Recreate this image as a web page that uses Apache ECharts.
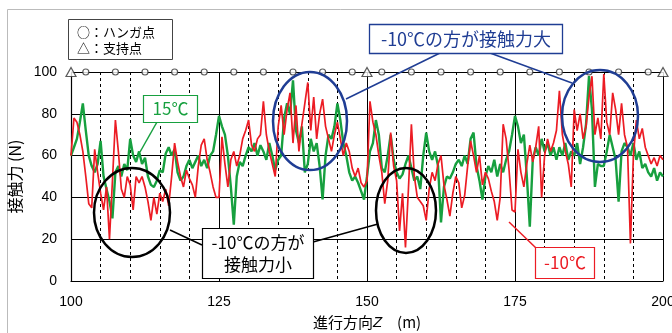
<!DOCTYPE html>
<html><head><meta charset="utf-8">
<script src="https://cdn.jsdelivr.net/npm/echarts@6/dist/echarts.min.js"></script>
<style>html,body{margin:0;padding:0;background:#fff}#c{width:672px;height:333px}</style>
</head><body><div id="c"></div>
<script>
// position along track (m): samples every 0.5 m from 100 to 200
const zStart = 100, zStep = 0.5;
// contact force (N) at -10°C
const redMinus10 = [
60,78,76,70,62,50,37,35,63,52,
42,34,45,20,48,77,62,44,40,50,
46,34,50,47,50,45,38,29,40,32,
42,38,44,36,50,66,57,50,45,53,
49,46,40,55,65,68,58,52,45,40,
40,69,56,45,58,62,55,60,68,72,
77,65,62,68,70,86,70,62,56,50,
74,84,70,82,90,66,84,62,75,85,
95,72,88,68,80,87,74,68,62,70,
76,68,60,66,62,54,50,54,47,45,
48,86,76,70,60,52,37,48,71,55,
48,24,42,16,44,75,50,40,38,36,
29,44,52,48,56,60,46,39,31,42,
50,47,35,41,55,67,60,52,60,46,
52,49,43,38,29,40,75,68,53,34,
33,63,52,45,56,65,57,64,74,40,
60,68,62,66,72,91,70,62,56,45,
82,72,80,68,74,88,98,70,78,68,
99,76,70,90,82,70,85,70,64,18,
60,77,68,73,64,60,56,59,55,60,
58];
// contact force (N) at 15°C
const green15 = [
60,64,68,76,85,72,60,55,52,56,
67,50,44,38,30,52,55,50,56,53,
68,60,57,62,56,59,50,46,45,48,
53,52,61,64,60,63,52,48,50,55,
58,54,57,60,55,58,54,60,62,70,
79,74,70,60,45,27,50,57,55,60,
64,62,66,60,65,62,58,66,60,53,
58,60,78,85,80,96,72,66,74,52,
56,68,62,66,55,39,60,70,68,74,
85,77,66,60,52,48,50,47,43,39,
50,62,66,77,70,54,52,60,70,58,
52,49,51,56,60,54,48,50,44,60,
71,62,58,62,55,28,45,50,49,52,
56,58,55,60,56,68,71,55,48,39,
50,55,52,58,50,56,52,58,62,70,
79,74,66,70,50,26,58,64,60,68,
62,66,60,64,58,64,60,66,58,62,
60,66,56,64,75,98,82,45,56,55,
55,62,70,64,58,38,62,66,64,60,
66,58,62,54,56,52,50,54,48,52,
50];
const hangerPoints = [102.5,107.5,112.5,117.5,122.5,127.5,132.5,137.5,142.5,147.5,
                      152.5,157.5,162.5,167.5,172.5,177.5,182.5,187.5,192.5,197.5];
const supportPoints = [100,150,200];
const markerLevel = 100;
const xTicks = [100,125,150,175,200];
const yTicks = [0,20,40,60,80,100];

const toPairs = arr => arr.map((v,i)=>[zStart+i*zStep, v]);
const RED = '#ec1c24', GREEN = '#17a03f', BLUE = '#1f3d94';
const JP = '"Noto Sans CJK JP","Noto Sans",sans-serif';
const LAT = '"Liberation Sans","Noto Sans",sans-serif';

const chart = echarts.init(document.getElementById('c'), null, {renderer:'canvas'});
chart.setOption({
  animation:false,
  backgroundColor:'#fff',
  grid:{left:71,right:9,top:72,bottom:52,containLabel:false,outerBoundsMode:'none'},
  xAxis:{type:'value',min:xTicks[0],max:xTicks[xTicks.length-1],interval:25,
    name:'{a|進行方向}{z|Z}{a|　(m)}',nameLocation:'middle',nameGap:34,
    nameTextStyle:{rich:{a:{fontFamily:JP,fontSize:15,color:'#000'},z:{fontFamily:LAT,fontSize:15,fontStyle:'italic',color:'#000'}}},
    axisLine:{show:true,lineStyle:{color:'#000',width:1.2}},
    axisTick:{show:false},
    axisLabel:{fontFamily:LAT,fontSize:14,color:'#000',margin:14},
    splitLine:{show:true,lineStyle:{color:'#000',width:1}},
    minorTick:{show:false,splitNumber:5},
    minorSplitLine:{show:true,lineStyle:{color:'#000',width:1,type:[3,3]}}
  },
  yAxis:{type:'value',min:yTicks[0],max:yTicks[yTicks.length-1],interval:20,
    name:'接触力 (N)',nameLocation:'middle',nameGap:38,nameRotate:90,
    nameTextStyle:{fontFamily:JP,fontSize:16,color:'#000'},
    axisLine:{show:true,lineStyle:{color:'#000',width:1.2}},
    axisTick:{show:false},
    axisLabel:{fontFamily:LAT,fontSize:14,color:'#000',margin:14},
    splitLine:{show:true,lineStyle:{color:'#000',width:1}}
  },
  series:[
    {type:'line',name:'15℃',data:toPairs(green15),showSymbol:false,
      lineStyle:{color:GREEN,width:2.4},z:2},
    {type:'line',name:'-10℃',data:toPairs(redMinus10),showSymbol:false,
      lineStyle:{color:RED,width:1.7},z:3},
    {type:'scatter',data:hangerPoints.map(z=>[z,markerLevel]),symbol:'circle',symbolSize:6,clip:false,
      itemStyle:{color:'#fff',borderColor:'#333',borderWidth:1.2},z:5},
    {type:'scatter',data:supportPoints.map(z=>[z,markerLevel]),symbol:'triangle',symbolSize:[10,9],clip:false,
      itemStyle:{color:'#fff',borderColor:'#333',borderWidth:1.2},z:5}
  ],
  graphic:[
    {type:'rect',shape:{x:7.5,y:9.5,width:700,height:400},style:{fill:'none',stroke:'#bbb',lineWidth:1},z:0,silent:true},
    // legend box
    {type:'rect',shape:{x:68.5,y:19.5,width:104,height:40},style:{fill:'#fff',stroke:'#444',lineWidth:1},z:10},
    {type:'text',x:77,y:32,style:{text:'○：ハンガ点',font:'13px '+JP,fill:'#000',textVerticalAlign:'middle'},z:11},
    {type:'text',x:77,y:48,style:{text:'△：支持点',font:'13px '+JP,fill:'#000',textVerticalAlign:'middle'},z:11},
    // 15C label
    {type:'line',shape:{x1:157,y1:122,x2:140,y2:152},style:{stroke:GREEN,lineWidth:1.5},z:10},
    {type:'rect',shape:{x:143.5,y:95.5,width:54,height:27},style:{fill:'#fff',stroke:GREEN,lineWidth:1.2},z:10},
    {type:'text',x:170.5,y:109,style:{text:'15℃',font:'17px '+JP,fill:GREEN,textAlign:'center',textVerticalAlign:'middle'},z:11},
    // blue
    {type:'ellipse',shape:{cx:310,cy:121,rx:37,ry:49},style:{fill:'none',stroke:BLUE,lineWidth:2.5},z:10},
    {type:'ellipse',shape:{cx:600,cy:116,rx:38,ry:46},style:{fill:'none',stroke:BLUE,lineWidth:2.5},z:10},
    {type:'line',shape:{x1:440,y1:53,x2:346,y2:99},style:{stroke:BLUE,lineWidth:1.5},z:10},
    {type:'line',shape:{x1:490,y1:53,x2:572,y2:83},style:{stroke:BLUE,lineWidth:1.5},z:10},
    {type:'rect',shape:{x:369.5,y:24.5,width:193,height:29},style:{fill:'#fff',stroke:BLUE,lineWidth:1.3},z:10},
    {type:'text',x:466,y:39.5,style:{text:'-10℃の方が接触力大',font:'18px '+JP,fill:BLUE,textAlign:'center',textVerticalAlign:'middle'},z:11},
    // black
    {type:'ellipse',shape:{cx:132,cy:212.5,rx:38,ry:44.5},style:{fill:'none',stroke:'#000',lineWidth:2.5},z:10},
    {type:'ellipse',shape:{cx:406,cy:210.5,rx:30,ry:42.5},style:{fill:'none',stroke:'#000',lineWidth:2.5},z:10},
    {type:'line',shape:{x1:170,y1:230,x2:202,y2:245},style:{stroke:'#000',lineWidth:1.5},z:10},
    {type:'line',shape:{x1:313,y1:242,x2:378,y2:224},style:{stroke:'#000',lineWidth:1.5},z:10},
    {type:'rect',shape:{x:202.5,y:228.5,width:111,height:50},style:{fill:'#fff',stroke:'#000',lineWidth:1.2},z:10},
    {type:'text',x:258,y:243,style:{text:'-10℃の方が',font:'17px '+JP,fill:'#000',textAlign:'center',textVerticalAlign:'middle'},z:11},
    {type:'text',x:258,y:265,style:{text:'接触力小',font:'17px '+JP,fill:'#000',textAlign:'center',textVerticalAlign:'middle'},z:11},
    // red
    {type:'line',shape:{x1:509,y1:222,x2:536,y2:248},style:{stroke:RED,lineWidth:1.5},z:10},
    {type:'rect',shape:{x:535.5,y:247.5,width:59,height:31},style:{fill:'#fff',stroke:RED,lineWidth:1.2},z:10},
    {type:'text',x:565,y:263,style:{text:'-10℃',font:'17px '+JP,fill:RED,textAlign:'center',textVerticalAlign:'middle'},z:11}
  ]
});
</script></body></html>
